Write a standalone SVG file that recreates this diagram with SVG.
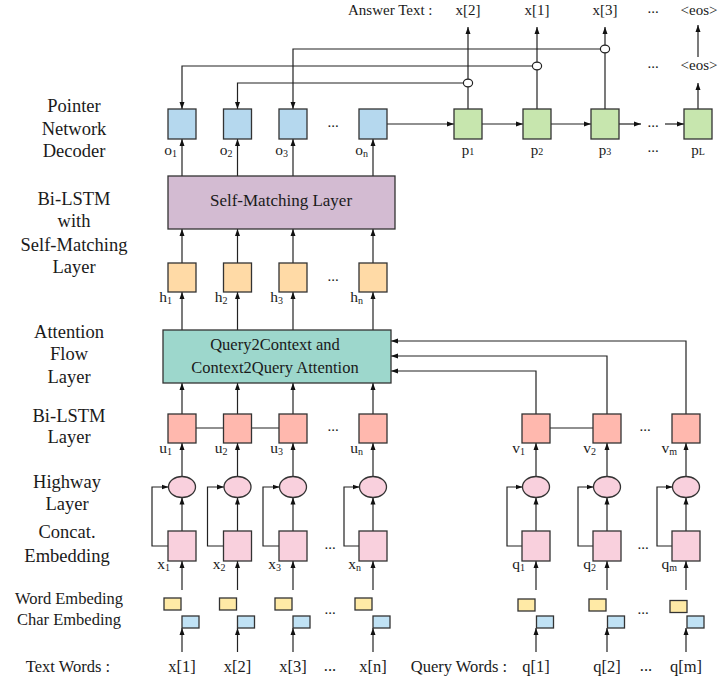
<svg xmlns="http://www.w3.org/2000/svg" width="718" height="686" viewBox="0 0 718 686">
<defs>
<marker id="ah" markerUnits="userSpaceOnUse" markerWidth="7" markerHeight="6" refX="7" refY="3" orient="auto">
<path d="M0,0.5 L7,3 L0,5.5 z" fill="#111"/>
</marker>
<style>
text{font-family:"Liberation Serif","Times New Roman",serif;fill:#1a1a1a}
.lab{font-size:18.5px;text-anchor:middle}
.sm{font-size:16.5px;text-anchor:middle}
.t{font-size:15px;text-anchor:middle}
.s{font-size:15.5px;text-anchor:end}
.sub{font-size:10px}
.box{stroke:#333;stroke-width:1.3}
.o{fill:#b5d8ee}
.p{fill:#c7e6ae}
.h{fill:#ffdaa6}
.u{fill:#ffb8ae}
.pk{fill:#f9d0dd}
.y{fill:#ffeaa6}
.b{fill:#c0e2f5}
.c{fill:none;stroke:#222;stroke-width:1.2}
.a{fill:none;stroke:#222;stroke-width:1.2;marker-end:url(#ah)}
</style>
</defs>
<rect width="718" height="686" fill="#fff"/>

<g id="labels">
<text class="lab" x="74" y="112">Pointer</text>
<text class="lab" x="74" y="135">Network</text>
<text class="lab" x="74" y="157">Decoder</text>
<text class="lab" x="74" y="205">Bi-LSTM</text>
<text class="lab" x="74" y="227">with</text>
<text class="lab" x="74" y="251">Self-Matching</text>
<text class="lab" x="74" y="273">Layer</text>
<text class="lab" x="69" y="338">Attention</text>
<text class="lab" x="69" y="360">Flow</text>
<text class="lab" x="69" y="383">Layer</text>
<text class="lab" x="69" y="422">Bi-LSTM</text>
<text class="lab" x="69" y="443">Layer</text>
<text class="lab" x="67" y="488">Highway</text>
<text class="lab" x="67" y="510">Layer</text>
<text class="lab" x="67" y="538">Concat.</text>
<text class="lab" x="67" y="562">Embedding</text>
<text class="sm" x="69" y="604">Word Embeding</text>
<text class="sm" x="69" y="625">Char Embeding</text>
<text class="sm" x="68" y="672">Text Words :</text>
<text class="sm" x="459" y="672">Query Words :</text>
<text x="348" y="15" style="font-size:15px">Answer Text :</text>
</g>

<g id="connectors">
<path class="a" d="M182,652 V628"/><path class="a" d="M237.5,652 V628"/><path class="a" d="M293,652 V628"/><path class="a" d="M373,652 V628"/>
<path class="a" d="M536,652 V628"/><path class="a" d="M607,652 V628"/><path class="a" d="M686,652 V628"/>
<path class="a" d="M182,590 V561"/><path class="a" d="M237.5,590 V561"/><path class="a" d="M293,590 V561"/><path class="a" d="M373,590 V561"/>
<path class="a" d="M536,590 V561"/><path class="a" d="M607,590 V561"/><path class="a" d="M686,590 V561"/>
<path class="a" d="M182,531 V497.5"/><path class="a" d="M237.5,531 V497.5"/><path class="a" d="M293,531 V497.5"/><path class="a" d="M373,531 V497.5"/>
<path class="a" d="M536,531 V497.5"/><path class="a" d="M607,531 V497.5"/><path class="a" d="M686,531 V497.5"/>
<path class="a" d="M168,546 H152 V487 H168.5"/><path class="a" d="M223.5,546 H207.5 V487 H224"/><path class="a" d="M279,546 H263 V487 H279.5"/><path class="a" d="M359,546 H344 V487 H359.5"/>
<path class="a" d="M522,546 H507 V487 H522.5"/><path class="a" d="M593,546 H578 V487 H593.5"/><path class="a" d="M672,546 H657 V487 H672.5"/>
<path class="a" d="M182,476.5 V443"/><path class="a" d="M237.5,476.5 V443"/><path class="a" d="M293,476.5 V443"/><path class="a" d="M373,476.5 V443"/>
<path class="a" d="M536,476.5 V443"/><path class="a" d="M607,476.5 V443"/><path class="a" d="M686,476.5 V443"/>
<path class="c" d="M196,428 H223.5 M251.5,428 H279 M550,428 H593"/>
<path class="a" d="M182,414 V383"/><path class="a" d="M237.5,414 V383"/><path class="a" d="M293,414 V383"/><path class="a" d="M373,414 V383"/>
<path class="a" d="M536,414 V371 H391"/><path class="a" d="M607,414 V356 H391"/><path class="a" d="M686,414 V341 H391"/>
<path class="a" d="M182,330 V292"/><path class="a" d="M237.5,330 V292"/><path class="a" d="M293,330 V292"/><path class="a" d="M373,330 V292"/>
<path class="a" d="M182,263 V229"/><path class="a" d="M237.5,263 V229"/><path class="a" d="M293,263 V229"/><path class="a" d="M373,263 V229"/>
<path class="a" d="M182,176 V139"/><path class="a" d="M237.5,176 V139"/><path class="a" d="M293,176 V139"/><path class="a" d="M373,176 V139"/>
<path class="a" d="M387,124 H454"/><path class="a" d="M482,124 H523"/><path class="a" d="M551,124 H591"/><path class="a" d="M619,124 H641"/><path class="a" d="M665,124 H684"/>
<path class="a" d="M600,49 H293 V109"/><path class="a" d="M532,66 H182 V109"/><path class="a" d="M463.5,83 H237.5 V109"/>
<path class="a" d="M468,109 V27"/><path class="a" d="M537,109 V27"/><path class="a" d="M605,109 V27"/>
<path class="a" d="M698,109 V83"/><path class="a" d="M698,57 V25"/>
<ellipse cx="468" cy="83" rx="4.6" ry="3.8" fill="#fff" stroke="#222" stroke-width="1.2"/>
<ellipse cx="537" cy="66" rx="4.6" ry="3.8" fill="#fff" stroke="#222" stroke-width="1.2"/>
<ellipse cx="605" cy="49" rx="4.6" ry="3.8" fill="#fff" stroke="#222" stroke-width="1.2"/>
</g>

<g id="answer-tokens">
<text class="t" x="468" y="15">x[2]</text>
<text class="t" x="537" y="15">x[1]</text>
<text class="t" x="605" y="15">x[3]</text>
<text class="t" x="653" y="13">...</text>
<text class="t" x="699" y="15">&lt;eos&gt;</text>
<text class="t" x="653" y="68">...</text>
<text class="t" x="699" y="70">&lt;eos&gt;</text>
</g>

<g id="decoder-o">
<rect class="box o" x="168" y="109" width="28" height="30"/>
<rect class="box o" x="223.5" y="109" width="28" height="30"/>
<rect class="box o" x="279" y="109" width="28" height="30"/>
<rect class="box o" x="359" y="109" width="28" height="30"/>
<text class="t" x="333" y="127">...</text>
<text class="s" x="177" y="155">o<tspan class="sub" dy="2">1</tspan></text>
<text class="s" x="232.5" y="155">o<tspan class="sub" dy="2">2</tspan></text>
<text class="s" x="288" y="155">o<tspan class="sub" dy="2">3</tspan></text>
<text class="s" x="368" y="155">o<tspan class="sub" dy="2">n</tspan></text>
</g>

<g id="decoder-p">
<rect class="box p" x="454" y="109" width="28" height="30"/>
<rect class="box p" x="523" y="109" width="28" height="30"/>
<rect class="box p" x="591" y="109" width="28" height="30"/>
<rect class="box p" x="684" y="109" width="28" height="30"/>
<text class="t" x="653" y="127">...</text>
<text class="t" x="468" y="155">p<tspan class="sub">1</tspan></text>
<text class="t" x="537" y="155">p<tspan class="sub">2</tspan></text>
<text class="t" x="605" y="155">p<tspan class="sub">3</tspan></text>
<text class="t" x="653" y="152">...</text>
<text class="t" x="698" y="155">p<tspan class="sub">L</tspan></text>
</g>

<g id="self-matching">
<rect class="box" x="168" y="176" width="227" height="53" fill="#d3bbd2"/>
<text x="281" y="206" style="font-size:17px;text-anchor:middle">Self-Matching Layer</text>
</g>

<g id="h-states">
<rect class="box h" x="168" y="263" width="28" height="29"/>
<rect class="box h" x="223.5" y="263" width="28" height="29"/>
<rect class="box h" x="279" y="263" width="28" height="29"/>
<rect class="box h" x="359" y="263" width="28" height="29"/>
<text class="t" x="333" y="281">...</text>
<text class="s" x="172" y="302">h<tspan class="sub" dy="2">1</tspan></text>
<text class="s" x="227.5" y="302">h<tspan class="sub" dy="2">2</tspan></text>
<text class="s" x="283" y="302">h<tspan class="sub" dy="2">3</tspan></text>
<text class="s" x="363" y="302">h<tspan class="sub" dy="2">n</tspan></text>
</g>

<g id="attention">
<rect class="box" x="163" y="330" width="228" height="53" fill="#9dd7cc"/>
<text x="275" y="350" style="font-size:16.5px;text-anchor:middle">Query2Context and</text>
<text x="275" y="373" style="font-size:16.5px;text-anchor:middle">Context2Query Attention</text>
</g>

<g id="bilstm-u">
<rect class="box u" x="168" y="414" width="28" height="29"/>
<rect class="box u" x="223.5" y="414" width="28" height="29"/>
<rect class="box u" x="279" y="414" width="28" height="29"/>
<rect class="box u" x="359" y="414" width="28" height="29"/>
<text class="t" x="333" y="431">...</text>
<text class="s" x="172" y="453">u<tspan class="sub" dy="2">1</tspan></text>
<text class="s" x="227.5" y="453">u<tspan class="sub" dy="2">2</tspan></text>
<text class="s" x="283" y="453">u<tspan class="sub" dy="2">3</tspan></text>
<text class="s" x="363" y="453">u<tspan class="sub" dy="2">n</tspan></text>
</g>

<g id="bilstm-v">
<rect class="box u" x="522" y="414" width="28" height="29"/>
<rect class="box u" x="593" y="414" width="28" height="29"/>
<rect class="box u" x="672" y="414" width="28" height="29"/>
<text class="t" x="645" y="431">...</text>
<text class="s" x="525" y="453">v<tspan class="sub" dy="2">1</tspan></text>
<text class="s" x="596" y="453">v<tspan class="sub" dy="2">2</tspan></text>
<text class="s" x="677" y="453">v<tspan class="sub" dy="2">m</tspan></text>
</g>

<g id="highway">
<ellipse class="box pk" cx="182" cy="487" rx="13.5" ry="10.5"/>
<ellipse class="box pk" cx="237.5" cy="487" rx="13.5" ry="10.5"/>
<ellipse class="box pk" cx="293" cy="487" rx="13.5" ry="10.5"/>
<ellipse class="box pk" cx="373" cy="487" rx="13.5" ry="10.5"/>
<ellipse class="box pk" cx="536" cy="487" rx="13.5" ry="10.5"/>
<ellipse class="box pk" cx="607" cy="487" rx="13.5" ry="10.5"/>
<ellipse class="box pk" cx="686" cy="487" rx="13.5" ry="10.5"/>
</g>

<g id="concat-x">
<rect class="box pk" x="168" y="531" width="28" height="30"/>
<rect class="box pk" x="223.5" y="531" width="28" height="30"/>
<rect class="box pk" x="279" y="531" width="28" height="30"/>
<rect class="box pk" x="359" y="531" width="28" height="30"/>
<text class="t" x="330" y="549">...</text>
<text class="s" x="170" y="569">x<tspan class="sub" dy="2">1</tspan></text>
<text class="s" x="225.5" y="569">x<tspan class="sub" dy="2">2</tspan></text>
<text class="s" x="281" y="569">x<tspan class="sub" dy="2">3</tspan></text>
<text class="s" x="361" y="569">x<tspan class="sub" dy="2">n</tspan></text>
</g>

<g id="concat-q">
<rect class="box pk" x="522" y="531" width="28" height="30"/>
<rect class="box pk" x="593" y="531" width="28" height="30"/>
<rect class="box pk" x="672" y="531" width="28" height="30"/>
<text class="t" x="643" y="549">...</text>
<text class="s" x="525" y="569">q<tspan class="sub" dy="2">1</tspan></text>
<text class="s" x="596" y="569">q<tspan class="sub" dy="2">2</tspan></text>
<text class="s" x="677" y="569">q<tspan class="sub" dy="2">m</tspan></text>
</g>

<g id="embeddings">
<rect class="box y" x="164" y="598" width="17" height="12"/><rect class="box b" x="182" y="616" width="17" height="12"/>
<rect class="box y" x="219.5" y="598" width="17" height="12"/><rect class="box b" x="237.5" y="616" width="17" height="12"/>
<rect class="box y" x="275" y="598" width="17" height="12"/><rect class="box b" x="293" y="616" width="17" height="12"/>
<rect class="box y" x="355" y="598" width="17" height="12"/><rect class="box b" x="373" y="616" width="17" height="12"/>
<text class="t" x="330" y="614">...</text>
<rect class="box y" x="518" y="599" width="17" height="12"/><rect class="box b" x="536.5" y="616" width="17" height="12"/>
<rect class="box y" x="589" y="599" width="17" height="12"/><rect class="box b" x="607.5" y="616" width="17" height="12"/>
<rect class="box y" x="670" y="600.5" width="17" height="12"/><rect class="box b" x="687" y="616" width="17" height="12"/>
<text class="t" x="643" y="614">...</text>
</g>

<g id="words">
<text class="sm" x="182" y="672">x[1]</text>
<text class="sm" x="237.5" y="672">x[2]</text>
<text class="sm" x="293" y="672">x[3]</text>
<text class="sm" x="330" y="671">...</text>
<text class="sm" x="373" y="672">x[n]</text>
<text class="sm" x="536" y="672">q[1]</text>
<text class="sm" x="607" y="672">q[2]</text>
<text class="sm" x="646" y="671">...</text>
<text class="sm" x="686" y="672">q[m]</text>
</g>
</svg>
